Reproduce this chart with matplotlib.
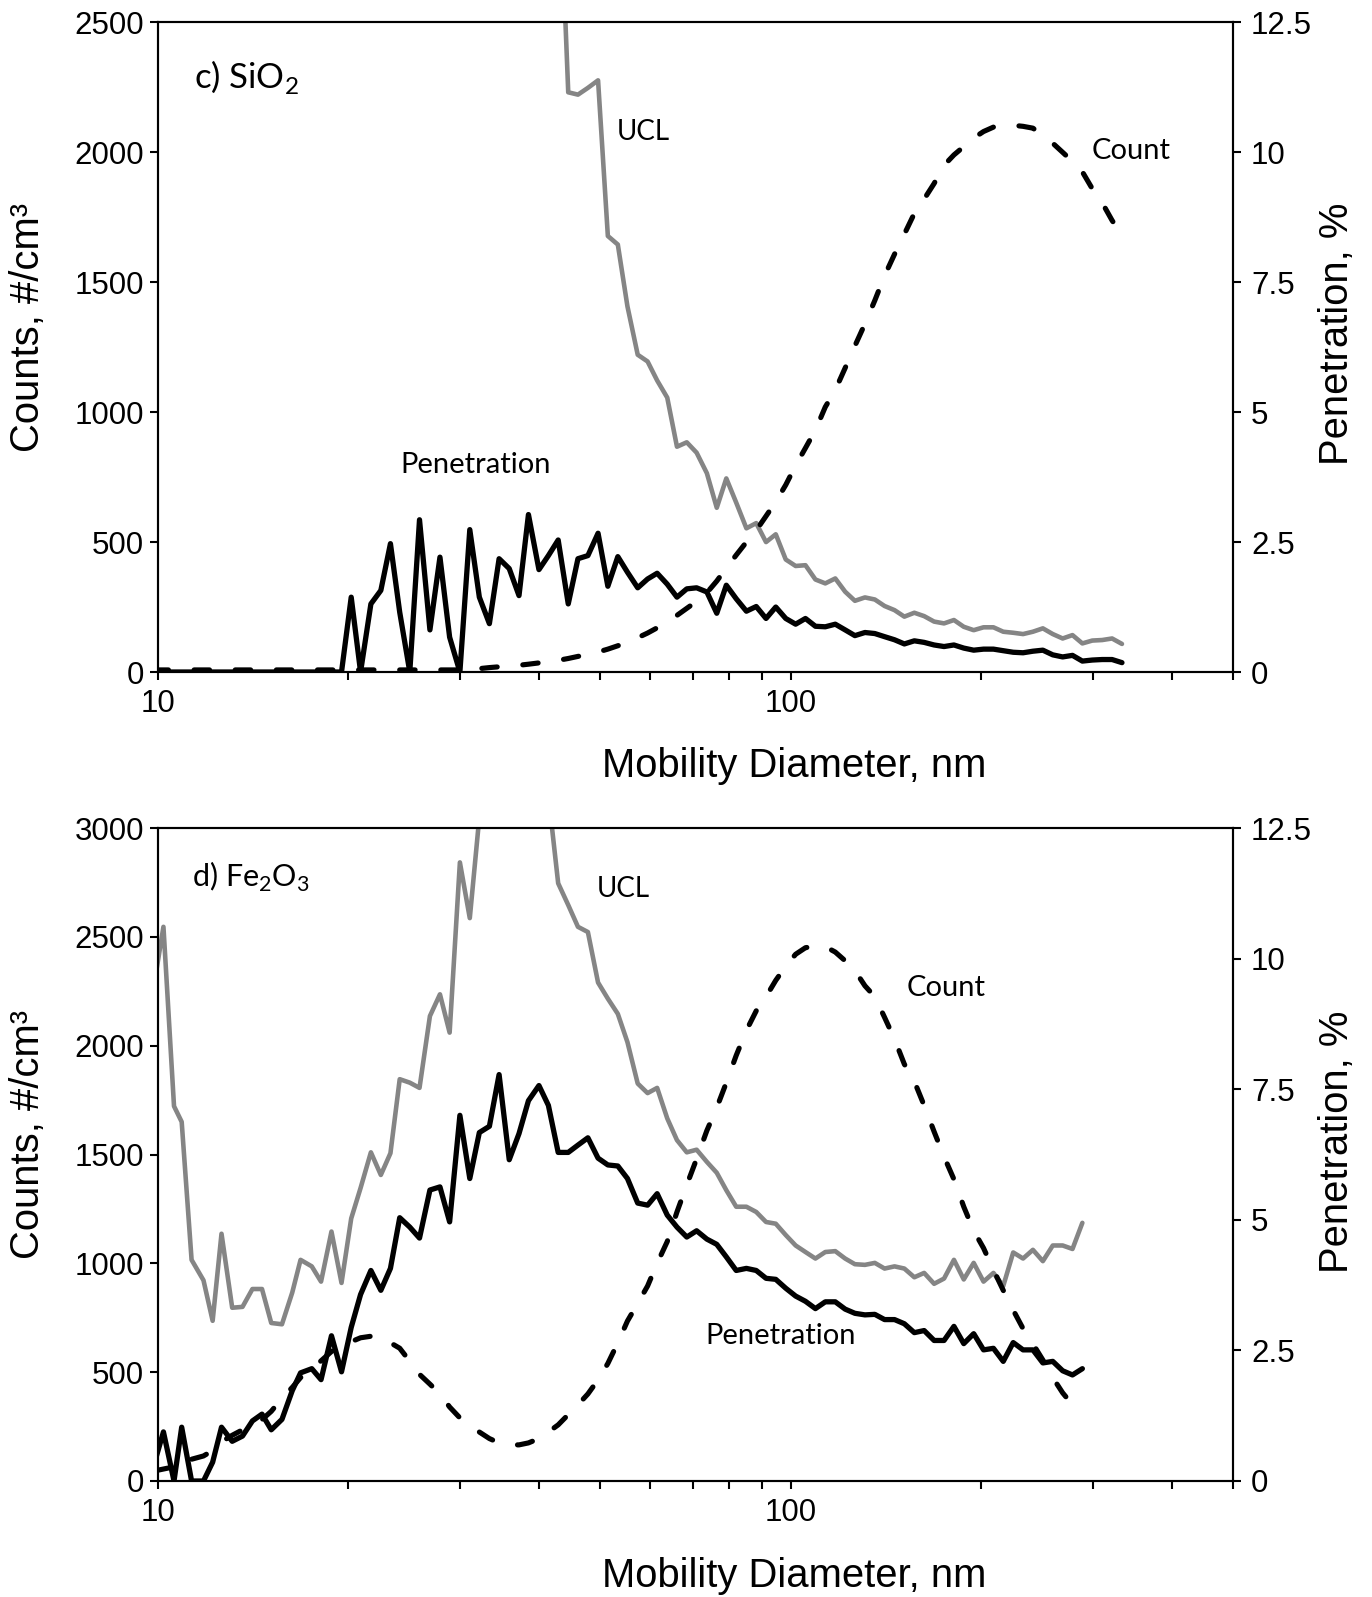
import numpy as np
import matplotlib
matplotlib.use("Agg")
import matplotlib.pyplot as plt
from matplotlib.ticker import FixedLocator, NullFormatter, FixedFormatter

plt.rcParams['font.family'] = ['Liberation Sans', 'DejaVu Sans']

nan = float('nan')

# SMPS channel mid-point diameters (nm), 64 channels/decade
diameters = [9.82,
    10.2, 10.6, 10.9, 11.3, 11.8, 12.2, 12.6, 13.1, 13.6, 14.1,
    14.6, 15.1, 15.7, 16.3, 16.8, 17.5, 18.1, 18.8, 19.5, 20.2,
    20.9, 21.7, 22.5, 23.3, 24.1, 25.0, 25.9, 26.9, 27.9, 28.9,
    30.0, 31.1, 32.2, 33.4, 34.6, 35.9, 37.2, 38.5, 40.0, 41.4,
    42.9, 44.5, 46.1, 47.8, 49.6, 51.4, 53.3, 55.2, 57.3, 59.4,
    61.5, 63.8, 66.1, 68.5, 71.0, 73.7, 76.4, 79.1, 82.0, 85.1,
    88.2, 91.4, 94.7, 98.2, 101.8, 105.5, 109.4, 113.4, 117.6, 121.9,
    126.3, 131.0, 135.8, 140.7, 145.9, 151.2, 156.8, 162.5, 168.5, 174.7,
    181.1, 187.7, 194.6, 201.7, 209.1, 216.7, 224.7, 232.9, 241.4, 250.3,
    259.5, 269.0, 278.8, 289.0, 299.6, 310.6, 322.0, 333.8]

# ---- c) SiO2 ----
sio2_count = [8,
    8, 8, 8, 8, 8, 8, 8, 8, 8, 8,
    8, 8, 8, 8, 8, 8, 8, 8, 8, 8,
    8, 8, 8, 8, 8, 8, 8, 8, 8, 8,
    8, 10, 13, 17, 20, 23, 26, 30, 35, 40,
    45, 52, 60, 68, 77, 88, 101, 115, 132, 150,
    170, 192, 218, 245, 272, 305, 350, 400, 450, 500,
    545, 600, 655, 720, 795, 862, 931, 1020, 1085, 1170,
    1255, 1340, 1430, 1525, 1608, 1685, 1765, 1820, 1880, 1950,
    1990, 2022, 2055, 2080, 2097, 2102, 2104, 2100, 2093, 2065,
    2035, 2000, 1965, 1925, 1860, 1806, 1738, 1680]

sio2_ucl = [nan,
    nan, nan, nan, nan, nan, nan, nan, nan, nan, nan,
    nan, nan, nan, nan, nan, nan, nan, nan, nan, nan,
    nan, nan, nan, nan, nan, nan, nan, nan, nan, nan,
    nan, nan, nan, nan, nan, nan, nan, nan, nan, nan,
    3200, 2231, 2222, 2248, 2277, 1678, 1645, 1407, 1221, 1195,
    1122, 1056, 867, 884, 844, 765, 632, 745, 652, 553,
    573, 500, 530, 433, 408, 411, 356, 341, 360, 309,
    274, 287, 279, 254, 238, 213, 228, 215, 194, 187,
    200, 174, 161, 172, 172, 155, 151, 146, 155, 168,
    146, 129, 142, 110, 121, 123, 129, 108]

sio2_pen = [0,
    0, 0, 0, 0, 0, 0, 0, 0, 0, 0,
    0, 0, 0, 0, 0, 0, 0, 0, 0, 1.44,
    0, 1.31, 1.57, 2.47, 1.15, 0, 2.93, 0.81, 2.21, 0.67,
    0, 2.74, 1.44, 0.93, 2.18, 1.99, 1.47, 3.03, 1.97, 2.24,
    2.54, 1.31, 2.18, 2.24, 2.67, 1.65, 2.22, 1.92, 1.62, 1.79,
    1.90, 1.69, 1.44, 1.60, 1.62, 1.54, 1.13, 1.67, 1.41, 1.17,
    1.26, 1.03, 1.25, 1.03, 0.92, 1.03, 0.88, 0.87, 0.92, 0.81,
    0.70, 0.76, 0.74, 0.68, 0.62, 0.54, 0.60, 0.57, 0.52, 0.49,
    0.52, 0.46, 0.42, 0.44, 0.44, 0.41, 0.38, 0.37, 0.40, 0.42,
    0.33, 0.29, 0.32, 0.21, 0.23, 0.24, 0.24, 0.18]

# ---- d) Fe2O3 ----
fe_count = [45,
    55, 65, 88, 100, 115, 140, 180, 210, 235, 258,
    282, 320, 380, 430, 475, 515, 552, 595, 625, 640,
    658, 665, 660, 635, 610, 550, 490, 445, 400, 340,
    290, 255, 225, 195, 175, 166, 166, 175, 195, 225,
    258, 305, 350, 400, 465, 540, 635, 735, 816, 896,
    1000, 1100, 1236, 1360, 1480, 1610, 1715, 1830, 1955, 2070,
    2160, 2225, 2300, 2365, 2420, 2450, 2458, 2455, 2430, 2390,
    2345, 2275, 2225, 2130, 2030, 1915, 1836, 1725, 1605, 1490,
    1386, 1260, 1150, 1070, 970, 876, 785, 700, 630, 556,
    475, 405, 350, 305]

fe_ucl = [2250,
    2546, 1722, 1650, 1016, 922, 736, 1136, 796, 800, 882,
    882, 726, 720, 866, 1016, 986, 916, 1146, 910, 1206,
    1346, 1510, 1406, 1506, 1846, 1830, 1806, 2136, 2236, 2060,
    2842, 2586, 3050, nan, nan, nan, nan, nan, nan, 3150,
    2746, 2646, 2546, 2522, 2290, 2216, 2146, 2016, 1826, 1782,
    1806, 1666, 1566, 1510, 1522, 1466, 1416, 1336, 1260, 1260,
    1236, 1190, 1182, 1130, 1082, 1052, 1022, 1052, 1056, 1022,
    996, 993, 1002, 976, 986, 976, 936, 956, 906, 930,
    1016, 926, 1002, 916, 956, 896, 1050, 1022, 1062, 1010,
    1082, 1082, 1066, 1186]

fe_pen = [0.25,
    0.94, 0, 1.03, 0, 0, 0.36, 1.03, 0.76, 0.86, 1.15,
    1.28, 0.98, 1.18, 1.73, 2.07, 2.15, 1.94, 2.78, 2.09, 2.94,
    3.57, 4.03, 3.65, 4.07, 5.04, 4.86, 4.65, 5.57, 5.63, 4.96,
    7.00, 5.79, 6.67, 6.79, 7.78, 6.15, 6.65, 7.28, 7.57, 7.19,
    6.29, 6.29, 6.43, 6.57, 6.18, 6.05, 6.03, 5.79, 5.32, 5.28,
    5.50, 5.09, 4.86, 4.67, 4.79, 4.63, 4.53, 4.29, 4.03, 4.07,
    4.03, 3.88, 3.86, 3.69, 3.54, 3.44, 3.30, 3.43, 3.43, 3.29,
    3.21, 3.18, 3.19, 3.09, 3.09, 3.01, 2.84, 2.88, 2.69, 2.69,
    2.96, 2.63, 2.82, 2.51, 2.54, 2.29, 2.65, 2.51, 2.51, 2.26,
    2.29, 2.11, 2.03, 2.15]

left_ticks_top = [0, 500, 1000, 1500, 2000, 2500]
left_ticks_bot = [0, 500, 1000, 1500, 2000, 2500, 3000]
right_ticks = [0, 2.5, 5, 7.5, 10, 12.5]
right_labels = ['0', '2.5', '5', '7.5', '10', '12.5']
x_major = [10, 100]
x_major_labels = ['10', '100']
x_minor = [20, 30, 40, 50, 60, 70, 80, 90, 200, 300, 400, 500]

W, H = 1372, 1597
fig = plt.figure(figsize=(W / 100, H / 100), dpi=100)


def rect(l, r, t, b):
    return [l / W, 1 - b / H, (r - l) / W, (b - t) / H]


GREY = '#858585'
TICK_FS = 22.5
LABEL_FS = 28.8
ANNOT_FS = 21
ANNOT_FONT = ['Lato', 'DejaVu Sans']


def panel(r, count, ucl, pen, yticks, labels):
    n = len(count)
    d = diameters[:n]
    ax = fig.add_axes(r)
    ax.set_xscale('log')
    ax.plot(d, ucl, color=GREY, lw=3.3, zorder=2,
            solid_joinstyle='round', solid_capstyle='round')
    ax.plot(d, count, color='black', lw=3.7, linestyle=(0, (3.0, 5.0)),
            dash_capstyle='round', dash_joinstyle='round', zorder=3)
    ax.set_xlim(10, 500)
    ax.set_ylim(0, yticks[-1])
    ax.xaxis.set_major_locator(FixedLocator(x_major))
    ax.xaxis.set_major_formatter(FixedFormatter(x_major_labels))
    ax.xaxis.set_minor_locator(FixedLocator(x_minor))
    ax.xaxis.set_minor_formatter(NullFormatter())
    ax.set_yticks(yticks)
    ax.set_yticklabels([str(v) for v in yticks])
    ax.tick_params(axis='both', which='both', direction='out', length=6,
                   width=1.5, labelsize=TICK_FS, colors='black')
    ax.tick_params(axis='x', which='major', pad=6)
    ax.tick_params(axis='y', which='major', pad=4)
    for s in ax.spines.values():
        s.set_linewidth(1.5)
    ax.set_xlabel('Mobility Diameter, nm', fontsize=LABEL_FS)
    ax.xaxis.set_label_coords(0.592, -0.145)
    ax.xaxis.label.set_va('center')
    ax.set_ylabel('Counts, #/cm³', fontsize=LABEL_FS)
    ax.yaxis.set_label_coords(-0.1205, 0.53)
    ax.yaxis.label.set_va('center')

    ax2 = ax.twinx()
    ax2.plot(d, pen, color='black', lw=3.8, zorder=4,
             solid_joinstyle='round', solid_capstyle='round')
    ax2.set_ylim(0, 12.5)
    ax2.set_yticks(right_ticks)
    ax2.set_yticklabels(right_labels)
    ax2.tick_params(axis='y', direction='out', length=6, width=1.5,
                    labelsize=TICK_FS, pad=7)
    for s in ax2.spines.values():
        s.set_linewidth(1.5)
    ax2.set_ylabel('Penetration, %', fontsize=LABEL_FS)
    ax2.yaxis.set_label_coords(1.097, 0.52)
    ax2.yaxis.label.set_va('center')

    for (txt, px, py, fs) in labels:
        fig.text(px / W, 1 - py / H, txt, ha='left', va='center',
                 fontsize=fs, family=ANNOT_FONT)
    return ax, ax2


panel(rect(158, 1233, 22.4, 672), sio2_count, sio2_ucl, sio2_pen, left_ticks_top,
      [('c) SiO$_\\mathregular{2}$', 193.5, 77, 25), ('UCL', 617, 132, 20),
       ('Count', 1092, 151, ANNOT_FS), ('Penetration', 400, 465, ANNOT_FS)])
panel(rect(158, 1233, 828, 1481), fe_count, fe_ucl, fe_pen, left_ticks_bot,
      [('d) Fe$_\\mathregular{2}$O$_\\mathregular{3}$', 191.5, 877, 22), ('UCL', 597, 889, 20),
       ('Count', 906.5, 988, ANNOT_FS), ('Penetration', 705, 1336, ANNOT_FS)])

fig.savefig('out.png', dpi=100)
